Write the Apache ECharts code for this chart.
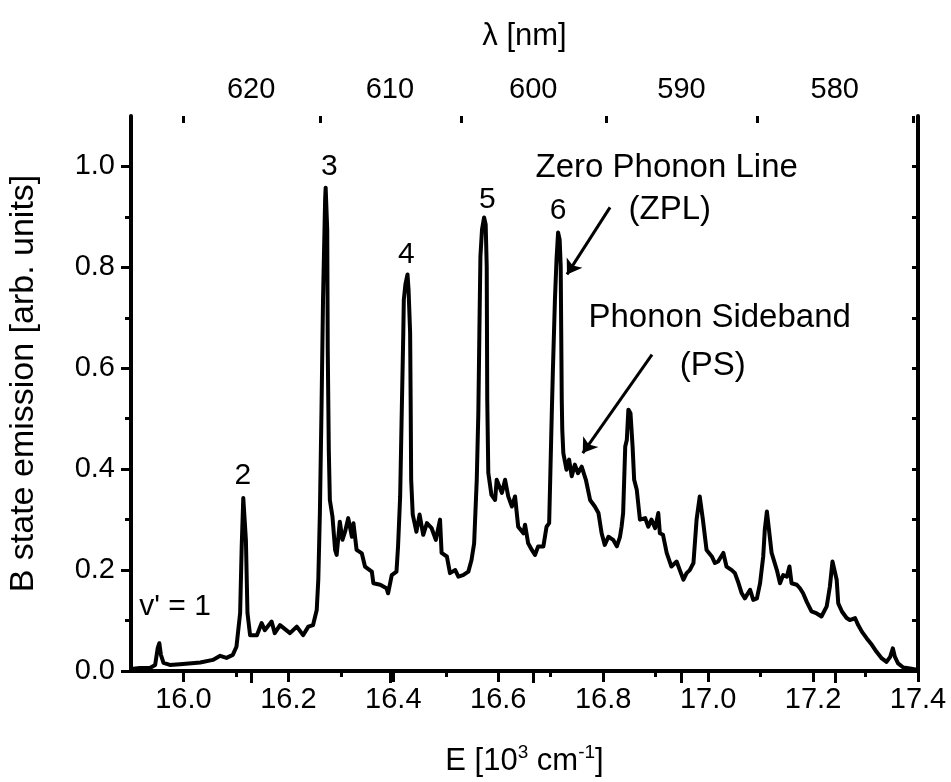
<!DOCTYPE html>
<html>
<head>
<meta charset="utf-8">
<script src="https://cdn.jsdelivr.net/npm/echarts@6/dist/echarts.min.js"></script>
<style>html,body{margin:0;padding:0;background:#fff}#c{width:951px;height:782px}</style>
</head>
<body>
<div id="c"></div>
<script>
// ---- data ----
const energy = [15.900,15.917,15.936,15.946,15.951,15.954,15.957,15.962,15.974,15.999,16.032,16.056,16.070,16.082,16.094,16.101,16.108,16.111,16.114,16.119,16.122,16.127,16.140,16.149,16.155,16.168,16.174,16.184,16.203,16.216,16.228,16.238,16.247,16.254,16.257,16.260,16.263,16.266,16.270,16.271,16.274,16.275,16.277,16.279,16.284,16.289,16.292,16.298,16.303,16.308,16.314,16.321,16.324,16.330,16.340,16.346,16.359,16.362,16.375,16.387,16.390,16.397,16.406,16.409,16.413,16.416,16.419,16.420,16.423,16.427,16.429,16.432,16.433,16.434,16.437,16.444,16.450,16.457,16.464,16.473,16.481,16.489,16.492,16.502,16.508,16.518,16.524,16.533,16.543,16.549,16.554,16.559,16.562,16.564,16.566,16.569,16.573,16.576,16.578,16.579,16.581,16.587,16.594,16.597,16.607,16.613,16.619,16.626,16.632,16.638,16.648,16.651,16.657,16.664,16.670,16.676,16.686,16.692,16.697,16.699,16.702,16.704,16.708,16.711,16.714,16.717,16.719,16.721,16.722,16.724,16.730,16.735,16.740,16.746,16.752,16.759,16.767,16.775,16.784,16.791,16.797,16.803,16.810,16.819,16.826,16.832,16.835,16.838,16.842,16.845,16.848,16.852,16.856,16.859,16.864,16.870,16.880,16.886,16.892,16.899,16.905,16.908,16.914,16.921,16.930,16.940,16.946,16.953,16.959,16.965,16.972,16.978,16.984,16.990,16.997,17.007,17.013,17.019,17.029,17.035,17.045,17.051,17.057,17.064,17.070,17.080,17.086,17.093,17.099,17.105,17.108,17.112,17.116,17.121,17.131,17.137,17.143,17.150,17.155,17.159,17.169,17.175,17.181,17.188,17.197,17.207,17.216,17.226,17.232,17.237,17.240,17.245,17.248,17.255,17.264,17.270,17.280,17.286,17.293,17.302,17.312,17.321,17.331,17.340,17.347,17.352,17.356,17.362,17.372,17.385,17.400];
const emission = [0.004,0.006,0.006,0.012,0.046,0.055,0.032,0.016,0.012,0.014,0.017,0.022,0.030,0.026,0.032,0.048,0.115,0.247,0.343,0.260,0.115,0.071,0.071,0.095,0.081,0.098,0.075,0.091,0.075,0.088,0.071,0.088,0.091,0.121,0.181,0.313,0.512,0.736,0.935,0.958,0.875,0.637,0.438,0.339,0.306,0.240,0.230,0.296,0.260,0.276,0.303,0.266,0.293,0.240,0.233,0.207,0.197,0.174,0.171,0.164,0.154,0.190,0.197,0.247,0.346,0.511,0.671,0.736,0.766,0.786,0.756,0.671,0.538,0.379,0.310,0.276,0.310,0.270,0.293,0.283,0.260,0.300,0.234,0.227,0.194,0.200,0.187,0.190,0.197,0.220,0.253,0.379,0.511,0.671,0.822,0.875,0.899,0.885,0.802,0.538,0.393,0.349,0.339,0.379,0.353,0.379,0.346,0.326,0.346,0.286,0.273,0.290,0.253,0.240,0.230,0.247,0.247,0.286,0.293,0.379,0.511,0.591,0.736,0.815,0.869,0.855,0.802,0.538,0.478,0.432,0.399,0.419,0.386,0.409,0.392,0.405,0.379,0.339,0.326,0.313,0.273,0.250,0.266,0.260,0.247,0.266,0.286,0.313,0.445,0.458,0.518,0.511,0.445,0.379,0.359,0.300,0.303,0.286,0.300,0.283,0.313,0.273,0.270,0.234,0.207,0.217,0.200,0.181,0.194,0.200,0.214,0.300,0.346,0.300,0.240,0.227,0.214,0.217,0.234,0.207,0.200,0.194,0.177,0.154,0.144,0.161,0.141,0.144,0.174,0.227,0.280,0.316,0.280,0.234,0.200,0.174,0.190,0.187,0.207,0.174,0.171,0.164,0.154,0.137,0.118,0.114,0.108,0.128,0.167,0.217,0.220,0.181,0.134,0.118,0.105,0.101,0.105,0.091,0.078,0.065,0.052,0.038,0.025,0.018,0.028,0.045,0.028,0.015,0.007,0.005,0.002];

const xMajorTicks = [16.0,16.2,16.4,16.6,16.8,17.0,17.2,17.4];
const xMinorTicks = [16.1,16.3,16.5,16.7,16.9,17.1,17.3];
const yMajorTicks = [0.0,0.2,0.4,0.6,0.8,1.0];
const yMinorTicks = [0.1,0.3,0.5,0.7,0.9];
const yRightTicks = [0.1,0.2,0.3,0.4,0.5,0.6,0.7,0.8,0.9,1.0];
const lambdaMajor = [620,610,600,590,580];
const lambdaMinor = [625,615,605,595,585,575];

const peakNames = ["v' = 1","2","3","4","5","6"];

// ---- chart ----
const FONT = 'Liberation Sans, Arial, sans-serif';
const toE = l => 1e4 / l;
const chart = echarts.init(document.getElementById('c'), null, {renderer:'canvas'});
const lineData = energy.map((e,i)=>[e, emission[i]]);
const axisLineStyle = {show:true, lineStyle:{color:'#000', width:4}};
const noAxis = {show:false};
const txt = {color:'#000', fontFamily:FONT, fontSize:29};
const tickStyle = {color:'#000', width:3};

const peakPos = [[15.984,0.127],[16.113,0.387],[16.278,1.0],[16.425,0.825],[16.579,0.935],[16.714,0.913]];
const notePos = [
  ['Zero Phonon Line',[16.921,0.998]],
  ['(ZPL)',[16.927,0.913]],
  ['Phonon Sideband',[17.022,0.700]],
  ['(PS)',[17.009,0.605]]
];
const mpData = peakNames.map((n,i)=>({name:n, coord:peakPos[i], label:{fontSize:30}}))
  .concat(notePos.map(p=>({name:p[0], coord:p[1], label:{fontSize:33}})));

const option = {
  animation:false,
  backgroundColor:'#fff',
  grid:{left:131, right:33, top:116, bottom:111, outerBoundsMode:'none', containLabel:false},
  xAxis:[
    {type:'value', position:'bottom', min:15.9, max:17.4,
     axisLine:axisLineStyle, splitLine:noAxis,
     axisTick:{show:true, inside:false, length:11, customValues:xMajorTicks, lineStyle:tickStyle},
     axisLabel:{show:true, customValues:xMajorTicks, margin:14, formatter:v=>v.toFixed(1), ...txt},
     name:'{a|E [10}{s|3}{a| cm}{s|-1}{a|]}', nameLocation:'middle', nameGap:72,
     nameTextStyle:{...txt, rich:{a:{color:'#000', fontFamily:FONT, fontSize:31, lineHeight:36}, s:{color:'#000', fontFamily:FONT, fontSize:19, verticalAlign:'top', lineHeight:20}}}
    },
    {type:'value', position:'bottom', min:15.9, max:17.4,
     axisLine:noAxis, splitLine:noAxis, axisLabel:noAxis,
     axisTick:{show:true, inside:false, length:6, customValues:xMinorTicks, lineStyle:tickStyle}
    },
    {type:'value', position:'top', min:15.9, max:17.4,
     axisLine:axisLineStyle, splitLine:noAxis,
     axisTick:{show:true, inside:true, length:12, customValues:lambdaMajor.map(toE), lineStyle:tickStyle},
     axisLabel:{show:true, customValues:lambdaMajor.map(toE), margin:12, formatter:v=>String(Math.round(1e4/v)), ...txt},
     name:'λ [nm]', nameLocation:'middle', nameGap:64, nameTextStyle:{...txt, fontSize:31}
    },
    {type:'value', position:'top', min:15.9, max:17.4,
     axisLine:noAxis, splitLine:noAxis, axisLabel:noAxis,
     axisTick:{show:true, inside:true, length:7, customValues:lambdaMinor.map(toE), lineStyle:tickStyle}
    }
  ],
  yAxis:[
    {type:'value', position:'left', min:0, max:1.1,
     axisLine:axisLineStyle, splitLine:noAxis,
     axisTick:{show:true, inside:false, length:10, customValues:yMajorTicks, lineStyle:tickStyle},
     axisLabel:{show:true, customValues:yMajorTicks, margin:16, formatter:v=>v.toFixed(1), ...txt},
     name:'B state emission [arb. units]', nameLocation:'middle', nameGap:90,
     nameTextStyle:{...txt, fontSize:34, padding:[0,0,0,20]}
    },
    {type:'value', position:'left', min:0, max:1.1,
     axisLine:noAxis, splitLine:noAxis, axisLabel:noAxis,
     axisTick:{show:true, inside:false, length:6, customValues:yMinorTicks, lineStyle:tickStyle}
    },
    {type:'value', position:'right', min:0, max:1.1,
     axisLine:axisLineStyle, splitLine:noAxis, axisLabel:noAxis,
     axisTick:{show:true, inside:true, length:6, customValues:yRightTicks, lineStyle:tickStyle}
    }
  ],
  series:[{
    type:'line', xAxisIndex:0, yAxisIndex:0, data:lineData,
    showSymbol:false, symbol:'none', smooth:false,
    lineStyle:{color:'#000', width:4, join:'round', cap:'round'},
    silent:true,
    markPoint:{
      symbol:'rect', symbolSize:1, itemStyle:{color:'rgba(0,0,0,0)'}, silent:true,
      label:{show:true, position:'inside', formatter:p=>p.name, ...txt},
      data:mpData
    },
    markLine:{
      silent:true, symbol:['none','arrow'], symbolSize:14,
      lineStyle:{color:'#000', width:3, type:'solid'},
      label:{show:false},
      data:[
        [{coord:[16.813,0.919]},{coord:[16.731,0.786]}],
        [{coord:[16.893,0.627]},{coord:[16.761,0.432]}]
      ]
    }
  }]
};
chart.setOption(option);
</script>
</body>
</html>
